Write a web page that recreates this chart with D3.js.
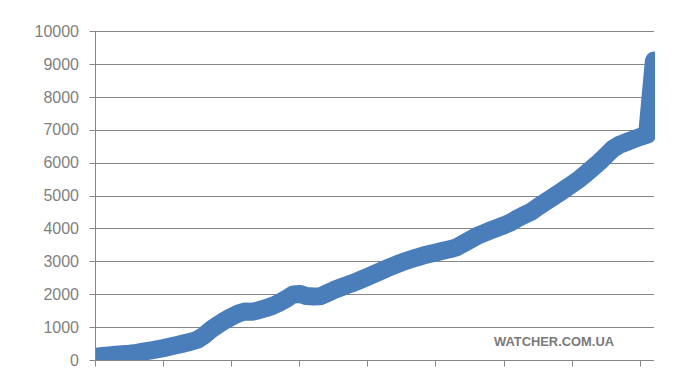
<!DOCTYPE html>
<html>
<head>
<meta charset="utf-8">
<script src="https://cdn.jsdelivr.net/npm/d3@7"></script>
<style>
  html, body { margin: 0; padding: 0; background: #fff; }
  svg { display: block; }
</style>
</head>
<body>
<section></section>
<script>
(function() {
  var W = 673, H = 369;
  var LEFT = 95.5, RIGHT = 654, TOP = 31, BOTTOM = 360;

  // one value per category (day)
  var values = [
    100, 119, 138, 157, 176, 194, 217, 253, 288, 323,
    361, 409, 457, 505, 554, 619, 755, 929, 1072, 1204,
    1315, 1416, 1477, 1465, 1513, 1574, 1645, 1738, 1857, 1993,
    2008, 1944, 1930, 1934, 2029, 2127, 2205, 2283, 2357, 2444,
    2533, 2623, 2715, 2803, 2889, 2970, 3038, 3106, 3168, 3219,
    3270, 3319, 3364, 3425, 3538, 3653, 3768, 3854, 3939, 4019,
    4097, 4182, 4307, 4409, 4511, 4660, 4798, 4930, 5063, 5203,
    5346, 5489, 5661, 5838, 6017, 6219, 6423, 6548, 6627, 6705,
    6783, 6850, 9100
  ];
  var categories = d3.range(values.length);
  var xTicks = [0, 10, 20, 30, 40, 50, 60, 70, 80];
  var yTicks = [0, 1000, 2000, 3000, 4000, 5000, 6000, 7000, 8000, 9000, 10000];
  var watermark = 'WATCHER.COM.UA';

  var svg = d3.select('section').append('svg')
    .attr('width', W).attr('height', H);

  var x = d3.scaleLinear().domain([0, categories.length - 1]).range([LEFT, 653.9]);
  var y = d3.scaleLinear().domain([0, 10000]).range([BOTTOM, TOP]);
  var py = function(v) { return Math.round(y(v)) + 0.5; };

  // gridlines
  svg.append('g').selectAll('line').data(yTicks.slice(1)).enter().append('line')
    .attr('x1', LEFT).attr('x2', RIGHT)
    .attr('y1', py).attr('y2', py)
    .attr('stroke', '#868686').attr('stroke-width', 1);

  // the series
  svg.append('clipPath').attr('id', 'plot')
    .append('rect')
    .attr('x', LEFT).attr('y', TOP - 20)
    .attr('width', RIGHT + 1 - LEFT).attr('height', BOTTOM - TOP + 20);

  var line = d3.line()
    .x(function(d, i) { return x(categories[i]); })
    .y(function(d) { return y(d); });

  svg.append('path')
    .datum(values)
    .attr('clip-path', 'url(#plot)')
    .attr('d', line)
    .attr('fill', 'none')
    .attr('stroke', '#4a7ebb')
    .attr('stroke-width', 18)
    .attr('stroke-linejoin', 'round')
    .attr('stroke-linecap', 'round');

  // y axis
  var yAxis = svg.append('g');
  yAxis.append('line')
    .attr('x1', LEFT).attr('x2', LEFT)
    .attr('y1', py(10000) - 0.5).attr('y2', py(0))
    .attr('stroke', '#868686');
  yAxis.selectAll('line.tick').data(yTicks).enter().append('line')
    .attr('class', 'tick')
    .attr('x1', LEFT - 6).attr('x2', LEFT)
    .attr('y1', py).attr('y2', py)
    .attr('stroke', '#868686');
  yAxis.selectAll('text').data(yTicks).enter().append('text')
    .attr('x', 79)
    .attr('y', function(d) { return y(d); })
    .attr('dy', '0.36em')
    .attr('text-anchor', 'end')
    .attr('font-family', 'Liberation Sans, Arial, sans-serif')
    .attr('font-size', 16)
    .attr('fill', '#7f7f7f')
    .text(function(d) { return d; });

  // x axis
  var xAxis = svg.append('g');
  xAxis.append('line')
    .attr('x1', LEFT).attr('x2', RIGHT)
    .attr('y1', py(0)).attr('y2', py(0))
    .attr('stroke', '#868686');
  xAxis.selectAll('line.tick').data(xTicks).enter().append('line')
    .attr('class', 'tick')
    .attr('x1', function(d) { return Math.round(x(d) - 0.5) + 0.5; })
    .attr('x2', function(d) { return Math.round(x(d) - 0.5) + 0.5; })
    .attr('y1', py(0)).attr('y2', py(0) + 6)
    .attr('stroke', '#868686');

  svg.append('text')
    .attr('x', 494).attr('y', 346)
    .attr('font-family', 'Liberation Sans, Arial, sans-serif')
    .attr('font-weight', 'bold')
    .attr('font-size', 13.5)
    .attr('textLength', 120)
    .attr('lengthAdjust', 'spacingAndGlyphs')
    .attr('fill', '#7a7a7a')
    .text(watermark);
}).call(this);
</script>
</body>
</html>
